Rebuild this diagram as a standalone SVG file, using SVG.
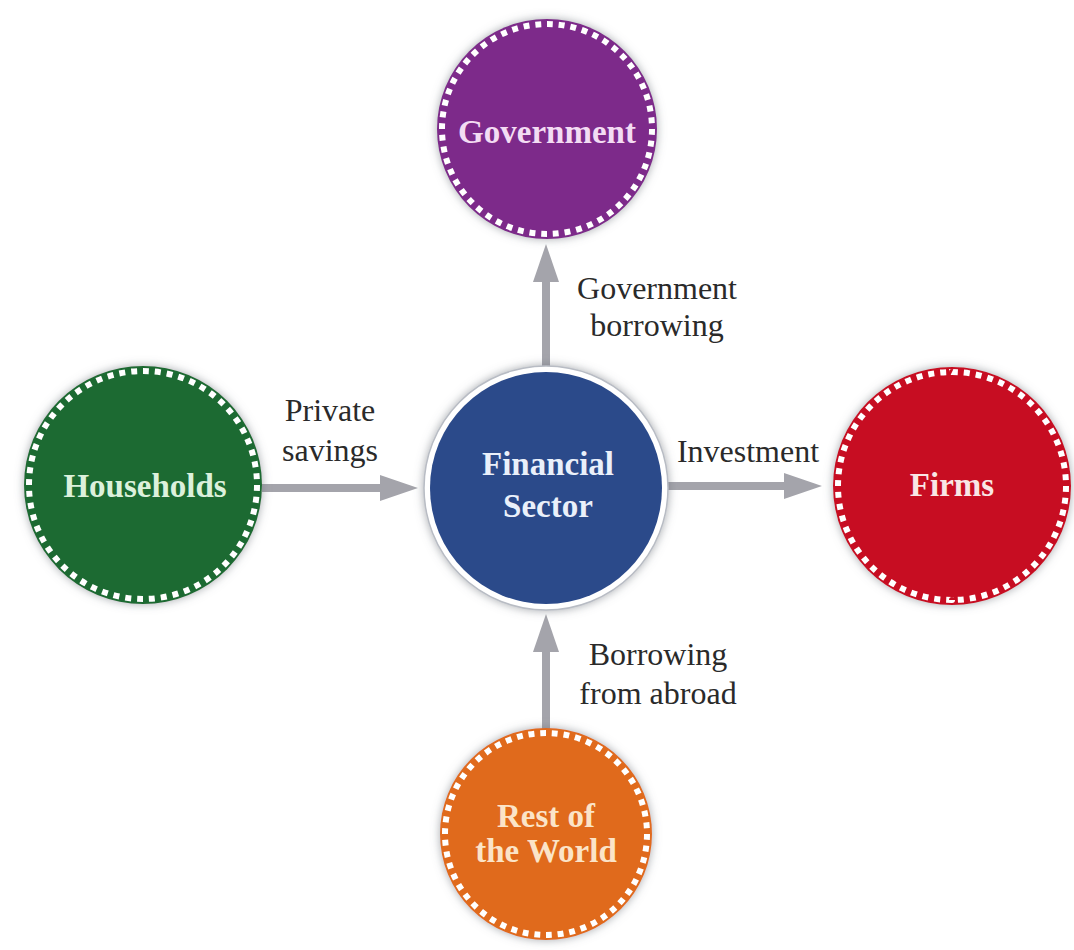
<svg xmlns="http://www.w3.org/2000/svg" width="1074" height="950" viewBox="0 0 1074 950">
<defs>
<style>
.node-label{font-family:"Liberation Serif","Times New Roman",serif;font-weight:bold;font-size:33px;text-anchor:middle}
.edge-label{font-family:"Liberation Serif","Times New Roman",serif;font-size:32px;fill:#2a2a2a;text-anchor:middle}
.dots{fill:none;stroke:#ffffff;stroke-width:6;stroke-dasharray:1 1}
.conn{stroke:#a4a4ab;stroke-width:8;fill:none}
</style>
<filter id="glow" x="-20%" y="-20%" width="140%" height="140%">
<feGaussianBlur in="SourceAlpha" stdDeviation="5"/>
<feOffset dx="0" dy="0" result="b"/>
<feFlood flood-color="#6a7078" flood-opacity="0.6"/>
<feComposite in2="b" operator="in"/>
<feMerge><feMergeNode/><feMergeNode in="SourceGraphic"/></feMerge>
</filter>
<marker id="arrow" markerUnits="userSpaceOnUse" markerWidth="40" markerHeight="26" refX="2" refY="13" orient="auto">
<path d="M0,0 L38,13 L0,26 Z" fill="#a4a4ab"/>
</marker>
</defs>
<rect width="1074" height="950" fill="#ffffff"/>

<g id="connectors">
<line class="conn" x1="262" y1="488" x2="382" y2="488" marker-end="url(#arrow)"/>
<line class="conn" x1="666" y1="486" x2="786" y2="486" marker-end="url(#arrow)"/>
<line class="conn" x1="546" y1="370" x2="546" y2="280" marker-end="url(#arrow)"/>
<line class="conn" x1="546" y1="730" x2="546" y2="650" marker-end="url(#arrow)"/>
</g>

<g id="edge-labels">
<text class="edge-label" x="657" y="299">Government</text>
<text class="edge-label" x="657" y="336">borrowing</text>
<text class="edge-label" x="330" y="421">Private</text>
<text class="edge-label" x="330" y="461">savings</text>
<text class="edge-label" x="748" y="462">Investment</text>
<text class="edge-label" x="658" y="665">Borrowing</text>
<text class="edge-label" x="658" y="704">from abroad</text>
</g>

<g id="government">
<circle cx="547" cy="129" r="110" fill="#7d2b8a" filter="url(#glow)"/>
<circle class="dots" cx="547" cy="129" r="105" pathLength="112"/>
<text class="node-label" x="547" y="143" fill="#f3dcf3">Government</text>
</g>

<g id="households">
<circle cx="143" cy="485" r="119" fill="#1f6b31" filter="url(#glow)"/>
<circle class="dots" cx="143" cy="485" r="114" pathLength="120"/>
<text class="node-label" x="145" y="497" fill="#dcf1dc">Households</text>
</g>

<g id="financial-sector">
<circle cx="546" cy="488" r="122" fill="#ffffff" stroke="#b8bcc4" stroke-width="1.5" filter="url(#glow)"/>
<circle cx="546" cy="488" r="116" fill="#2b4a8a"/>
<text class="node-label" x="548" y="475" fill="#eaf0fa">Financial</text>
<text class="node-label" x="548" y="517" fill="#eaf0fa">Sector</text>
</g>

<g id="firms">
<circle cx="952" cy="486" r="119" fill="#c70d23" filter="url(#glow)"/>
<circle class="dots" cx="952" cy="486" r="114" pathLength="120"/>
<text class="node-label" x="952" y="496" fill="#f9e6e6">Firms</text>
</g>

<g id="rest-of-world">
<circle cx="546" cy="834" r="106" fill="#e06a1e" filter="url(#glow)"/>
<circle class="dots" cx="546" cy="834" r="101" pathLength="108"/>
<text class="node-label" x="546" y="827" fill="#fbe4c8">Rest of</text>
<text class="node-label" x="546" y="862" fill="#fbe4c8">the World</text>
</g>
</svg>
